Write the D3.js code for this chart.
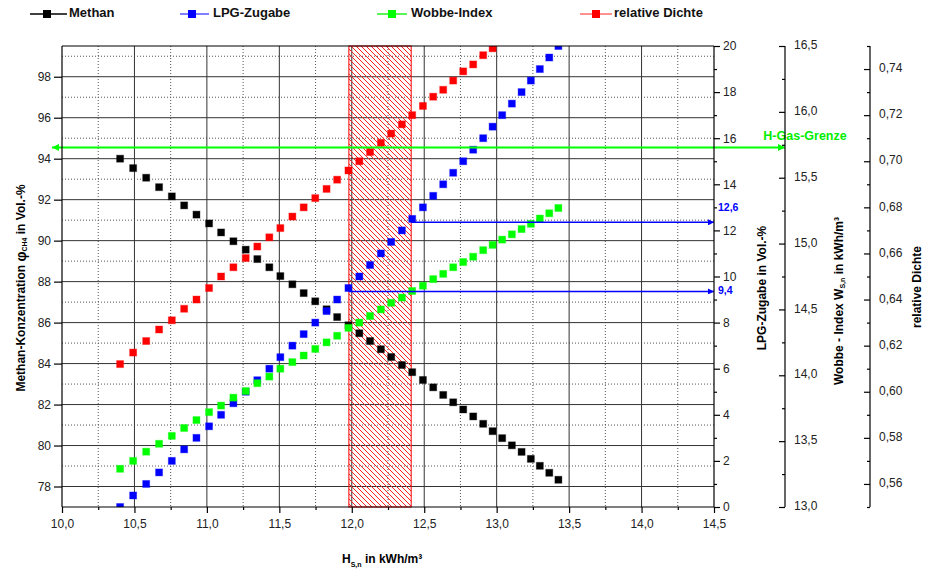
<!DOCTYPE html>
<html><head><meta charset="utf-8">
<script src="https://cdn.jsdelivr.net/npm/d3@7"></script>
<style>
body{margin:0;background:#fff;}
svg{font-family:"Liberation Sans",Arial,sans-serif;}
</style></head>
<body><svg id="c" width="930" height="570"></svg>
<script>
// ---------- DATA ----------
const hs = [10.401,10.491,10.581,10.670,10.758,10.843,10.928,11.015,11.098,11.183,11.268,11.348,11.431,11.507,11.590,11.668,11.748,11.826,11.899,11.977,12.052,12.126,12.201,12.272,12.346,12.417,12.491,12.562,12.631,12.700,12.769,12.838,12.907,12.972,13.038,13.105,13.172,13.236,13.298,13.363,13.426];
const methan = [94.00,93.54,93.07,92.61,92.16,91.72,91.27,90.84,90.40,89.97,89.56,89.10,88.70,88.27,87.87,87.44,87.04,86.65,86.27,85.87,85.48,85.10,84.70,84.32,83.93,83.58,83.20,82.84,82.47,82.11,81.76,81.42,81.06,80.70,80.36,80.01,79.69,79.35,79.01,78.67,78.33];
const lpg = [0,0.5,1,1.5,2,2.5,3,3.5,4,4.5,5,5.5,6,6.5,7,7.5,8,8.5,9,9.5,10,10.5,11,11.5,12,12.5,13,13.5,14,14.5,15,15.5,16,16.5,17,17.5,18,18.5,19,19.5,20];
const wobbe = [13.29,13.35,13.42,13.48,13.54,13.60,13.66,13.72,13.77,13.83,13.88,13.94,13.99,14.05,14.10,14.15,14.20,14.25,14.30,14.36,14.40,14.45,14.50,14.55,14.59,14.64,14.68,14.73,14.77,14.82,14.86,14.90,14.95,14.99,15.03,15.07,15.11,15.15,15.19,15.23,15.27];
const dichte = [0.612,0.617,0.622,0.627,0.631,0.636,0.640,0.645,0.650,0.654,0.658,0.663,0.667,0.671,0.676,0.680,0.684,0.688,0.692,0.696,0.700,0.704,0.708,0.712,0.716,0.720,0.724,0.728,0.731,0.735,0.739,0.742,0.746,0.749];

const seriesNames = ["Methan","LPG-Zugabe","Wobbe-Index","relative Dichte"];
const seriesColors = ["#000000","#0000ff","#00ff00","#ff0000"];
const legendLineColors = ["#000000","#3a3aff","#00ee00","#ff5555"];

const xTicks = [10.0,10.5,11.0,11.5,12.0,12.5,13.0,13.5,14.0,14.5];
const yLeftTicks = [78,80,82,84,86,88,90,92,94,96,98];
const lpgTicks = [0,2,4,6,8,10,12,14,16,18,20];
const wobbeTicks = [13.0,13.5,14.0,14.5,15.0,15.5,16.0,16.5];
const dichteTicks = [0.56,0.58,0.60,0.62,0.64,0.66,0.68,0.70,0.72,0.74];

const band = [11.98, 12.41];           // hatched range of H_s,n
const hGasLimit = 15.73;                // Wobbe index of the H-gas line
const lpgMarks = [{from:11.98, v:9.35, label:"9,4"},{from:12.41, v:12.35, label:"12,6"}];

// ---------- LAYOUT ----------
const L=62, R=714, T=46, B=507;
const svg = d3.select("#c");
const x = d3.scaleLinear([10,14.5],[L,R]);
const yL = d3.scaleLinear([77,99.5],[B,T]);
const yP = d3.scaleLinear([0,20],[B,T]);
const yW = d3.scaleLinear([13,16.5],[B,T]);
const yD = d3.scaleLinear([0.55,0.75],[B,T]);
const fmt1 = v => d3.format(".1f")(v).replace(".",",");
const fmt2 = v => d3.format(".2f")(v).replace(".",",");

const defs = svg.append("defs");
defs.append("clipPath").attr("id","clip").append("rect").attr("x",L).attr("y",T).attr("width",R-L).attr("height",B-T);
const pat = defs.append("pattern").attr("id","hatch").attr("patternUnits","userSpaceOnUse").attr("width",5).attr("height",5);
pat.append("path").attr("d","M-1,-1 L6,6 M-1,4 L1,6 M4,-1 L6,1").attr("stroke","#ff2020").attr("stroke-width",1);
function arrow(id,color,w,h){
  defs.append("marker").attr("id",id).attr("viewBox","0 0 10 10").attr("refX",10).attr("refY",5)
    .attr("markerUnits","userSpaceOnUse").attr("markerWidth",w).attr("markerHeight",h).attr("orient","auto-start-reverse")
    .append("path").attr("d","M0,0 L10,5 L0,10 z").attr("fill",color);
}
arrow("ag","#00ff00",9,7);
arrow("ab","#0000ff",7,6);

// grid
const g = svg.append("g");
const xMinor = d3.range(10.25,14.5,0.5);
const yMinor = d3.range(79,100,2);
g.selectAll(".vxm").data(xMinor).join("line").attr("x1",d=>x(d)).attr("x2",d=>x(d)).attr("y1",T).attr("y2",B)
  .attr("stroke","#555").attr("stroke-dasharray","1,2");
g.selectAll(".hym").data(yMinor).join("line").attr("y1",d=>yL(d)).attr("y2",d=>yL(d)).attr("x1",L).attr("x2",R)
  .attr("stroke","#555").attr("stroke-dasharray","1,2");
g.selectAll(".vx").data(xTicks.slice(1,-1)).join("line").attr("x1",d=>x(d)).attr("x2",d=>x(d)).attr("y1",T).attr("y2",B)
  .attr("stroke","#333").attr("stroke-width",1);
g.selectAll(".hy").data(yLeftTicks).join("line").attr("y1",d=>yL(d)).attr("y2",d=>yL(d)).attr("x1",L).attr("x2",R)
  .attr("stroke","#333").attr("stroke-width",1);

// hatched band
svg.append("rect").attr("x",x(band[0])).attr("y",T).attr("width",x(band[1])-x(band[0])).attr("height",B-T)
  .attr("fill","url(#hatch)").attr("stroke","#ff0000").attr("stroke-width",1);

// data
const data = hs.map((h,i)=>({h,i}));
const sets = [
  {vals:methan, y:yL, c:seriesColors[0]},
  {vals:lpg, y:yP, c:seriesColors[1]},
  {vals:wobbe, y:yW, c:seriesColors[2]},
  {vals:dichte, y:yD, c:seriesColors[3]}
];
const dg = svg.append("g").attr("clip-path","url(#clip)");
const S=7;
sets.forEach(s=>{
  dg.append("g").selectAll("rect").data(s.vals.map((v,i)=>({h:hs[i],v}))).join("rect")
    .attr("x",d=>x(d.h)-S/2).attr("y",d=>s.y(d.v)-S/2).attr("width",S).attr("height",S)
    .attr("fill",s.c).attr("stroke",s.c).attr("stroke-opacity",0.35).attr("stroke-width",1);
});

// H-Gas line
const yh = yW(hGasLimit);
svg.append("line").attr("x1",52).attr("x2",785).attr("y1",yh).attr("y2",yh)
  .attr("stroke","#00ff00").attr("stroke-width",2).attr("marker-start","url(#ag)").attr("marker-end","url(#ag)");
svg.append("text").attr("x",805).attr("y",yh-11).attr("text-anchor","middle").attr("dominant-baseline","middle")
  .attr("font-size",12.5).attr("font-weight","bold").attr("fill","#00ee00").text("H-Gas-Grenze");

// LPG annotation arrows
lpgMarks.forEach((m,k)=>{
  const yy = yP(m.v);
  svg.append("line").attr("x1",x(m.from)).attr("x2",R).attr("y1",yy).attr("y2",yy)
    .attr("stroke","#0000ff").attr("stroke-width",1.5).attr("marker-end","url(#ab)");
  svg.append("text").attr("x",R+4).attr("y",k===0?yy:yy-14).attr("dominant-baseline","middle")
    .attr("font-size",10.5).attr("font-weight","bold").attr("fill","#0000ff").text(m.label);
});

// frame
const ax = svg.append("g").attr("stroke","#000").attr("stroke-width",1.2);
ax.append("line").attr("x1",L).attr("x2",R).attr("y1",T).attr("y2",T);
ax.append("line").attr("x1",L).attr("x2",R).attr("y1",B).attr("y2",B);
ax.append("line").attr("x1",L).attr("x2",L).attr("y1",T).attr("y2",B);
ax.append("line").attr("x1",R).attr("x2",R).attr("y1",T).attr("y2",B);

function axisStyle(sel){
  sel.select(".domain").remove();
  sel.selectAll(".tick line").attr("stroke","#000").attr("stroke-width",1.2);
  sel.selectAll(".tick text").attr("font-size",12).attr("fill","#222").attr("font-family","'Liberation Sans',Arial,sans-serif");
}
// bottom
const gx = svg.append("g").attr("transform",`translate(0,${B})`)
  .call(d3.axisBottom(x).tickValues(xTicks).tickFormat(fmt1).tickSize(6).tickPadding(6));
axisStyle(gx);
svg.append("g").attr("transform",`translate(0,${B})`).call(d3.axisBottom(x).tickValues(xMinor).tickFormat("").tickSize(3))
  .call(axisStyle);
// left
const gl = svg.append("g").attr("transform",`translate(${L},0)`)
  .call(d3.axisLeft(yL).tickValues(yLeftTicks).tickFormat(d3.format("d")).tickSize(8).tickPadding(3));
axisStyle(gl);
// LPG right
svg.append("g").attr("transform",`translate(${R},0)`)
  .call(d3.axisRight(yP).tickValues(lpgTicks).tickFormat(d3.format("d")).tickSize(6).tickPadding(3)).call(axisStyle);
svg.append("g").attr("transform",`translate(${R},0)`)
  .call(d3.axisRight(yP).tickValues(d3.range(1,20,2)).tickFormat("").tickSize(3)).call(axisStyle);
// Wobbe axis
const XW=785, XD=870;
svg.append("line").attr("x1",XW).attr("x2",XW).attr("y1",T).attr("y2",B).attr("stroke","#000").attr("stroke-width",1.2);
svg.append("g").attr("transform",`translate(${XW},0)`)
  .call(d3.axisLeft(yW).tickValues(wobbeTicks).tickFormat("").tickSize(6)).call(axisStyle);
svg.append("g").attr("transform",`translate(${XW},0)`)
  .call(d3.axisLeft(yW).tickValues(d3.range(13.25,16.5,0.5)).tickFormat("").tickSize(3)).call(axisStyle);
svg.append("g").selectAll("text").data(wobbeTicks).join("text").attr("x",XW+9).attr("y",d=>yW(d))
  .attr("dominant-baseline","middle").attr("font-size",12).attr("fill","#222").text(fmt1);
// density axis
svg.append("line").attr("x1",XD).attr("x2",XD).attr("y1",T).attr("y2",B).attr("stroke","#000").attr("stroke-width",1.2);
svg.append("g").attr("transform",`translate(${XD},0)`)
  .call(d3.axisLeft(yD).tickValues(dichteTicks).tickFormat("").tickSize(6)).call(axisStyle);
svg.append("g").attr("transform",`translate(${XD},0)`)
  .call(d3.axisLeft(yD).tickValues(d3.range(0.55,0.755,0.02)).tickFormat("").tickSize(3)).call(axisStyle);
svg.append("g").selectAll("text").data(dichteTicks).join("text").attr("x",XD+9).attr("y",d=>yD(d))
  .attr("dominant-baseline","middle").attr("font-size",12).attr("fill","#222").text(fmt2);

// axis titles
const tt = svg.append("g").attr("font-weight","bold").attr("font-size",12).attr("fill","#000");
const t1 = tt.append("text").attr("transform","translate(22,288) rotate(-90)").attr("text-anchor","middle").attr("dominant-baseline","middle");
t1.append("tspan").text("Methan-Konzentration ");
t1.append("tspan").attr("font-size",14).text("φ");
t1.append("tspan").attr("font-size",7).attr("dy",3).text("CH4");
t1.append("tspan").attr("dy",-3).text(" in Vol.-%");
tt.append("text").attr("transform","translate(763,288) rotate(-90)").attr("text-anchor","middle").attr("dominant-baseline","middle").text("LPG-Zugabe in Vol.-%");
const t3 = tt.append("text").attr("transform","translate(840,301) rotate(-90)").attr("text-anchor","middle").attr("dominant-baseline","middle");
t3.append("tspan").text("Wobbe - Index W");
t3.append("tspan").attr("font-size",7).attr("dy",3).text("S,n");
t3.append("tspan").attr("dy",-3).text(" in kWh/m³");
tt.append("text").attr("transform","translate(918,287) rotate(-90)").attr("text-anchor","middle").attr("dominant-baseline","middle").text("relative Dichte");
const t5 = tt.append("text").attr("x",342).attr("y",563);
t5.append("tspan").text("H");
t5.append("tspan").attr("font-size",7).attr("dy",4).text("S,n");
t5.append("tspan").attr("dy",-4).text("  in kWh/m³");

// legend
const legX = [[30,67,47,69],[180,209,192,213],[377,407,392,411],[580,612,596,614]];
const lg = svg.append("g");
seriesNames.forEach((n,i)=>{
  const [a,b,m,t] = legX[i];
  lg.append("line").attr("x1",a).attr("x2",b).attr("y1",14).attr("y2",14).attr("stroke",legendLineColors[i]).attr("stroke-width",1.3);
  lg.append("rect").attr("x",m-4).attr("y",10).attr("width",8).attr("height",8).attr("fill",seriesColors[i]);
  lg.append("text").attr("x",t).attr("y",14).attr("dominant-baseline","middle").attr("font-size",13)
    .attr("font-weight","bold").attr("fill","#111").text(n);
});
</script></body></html>
